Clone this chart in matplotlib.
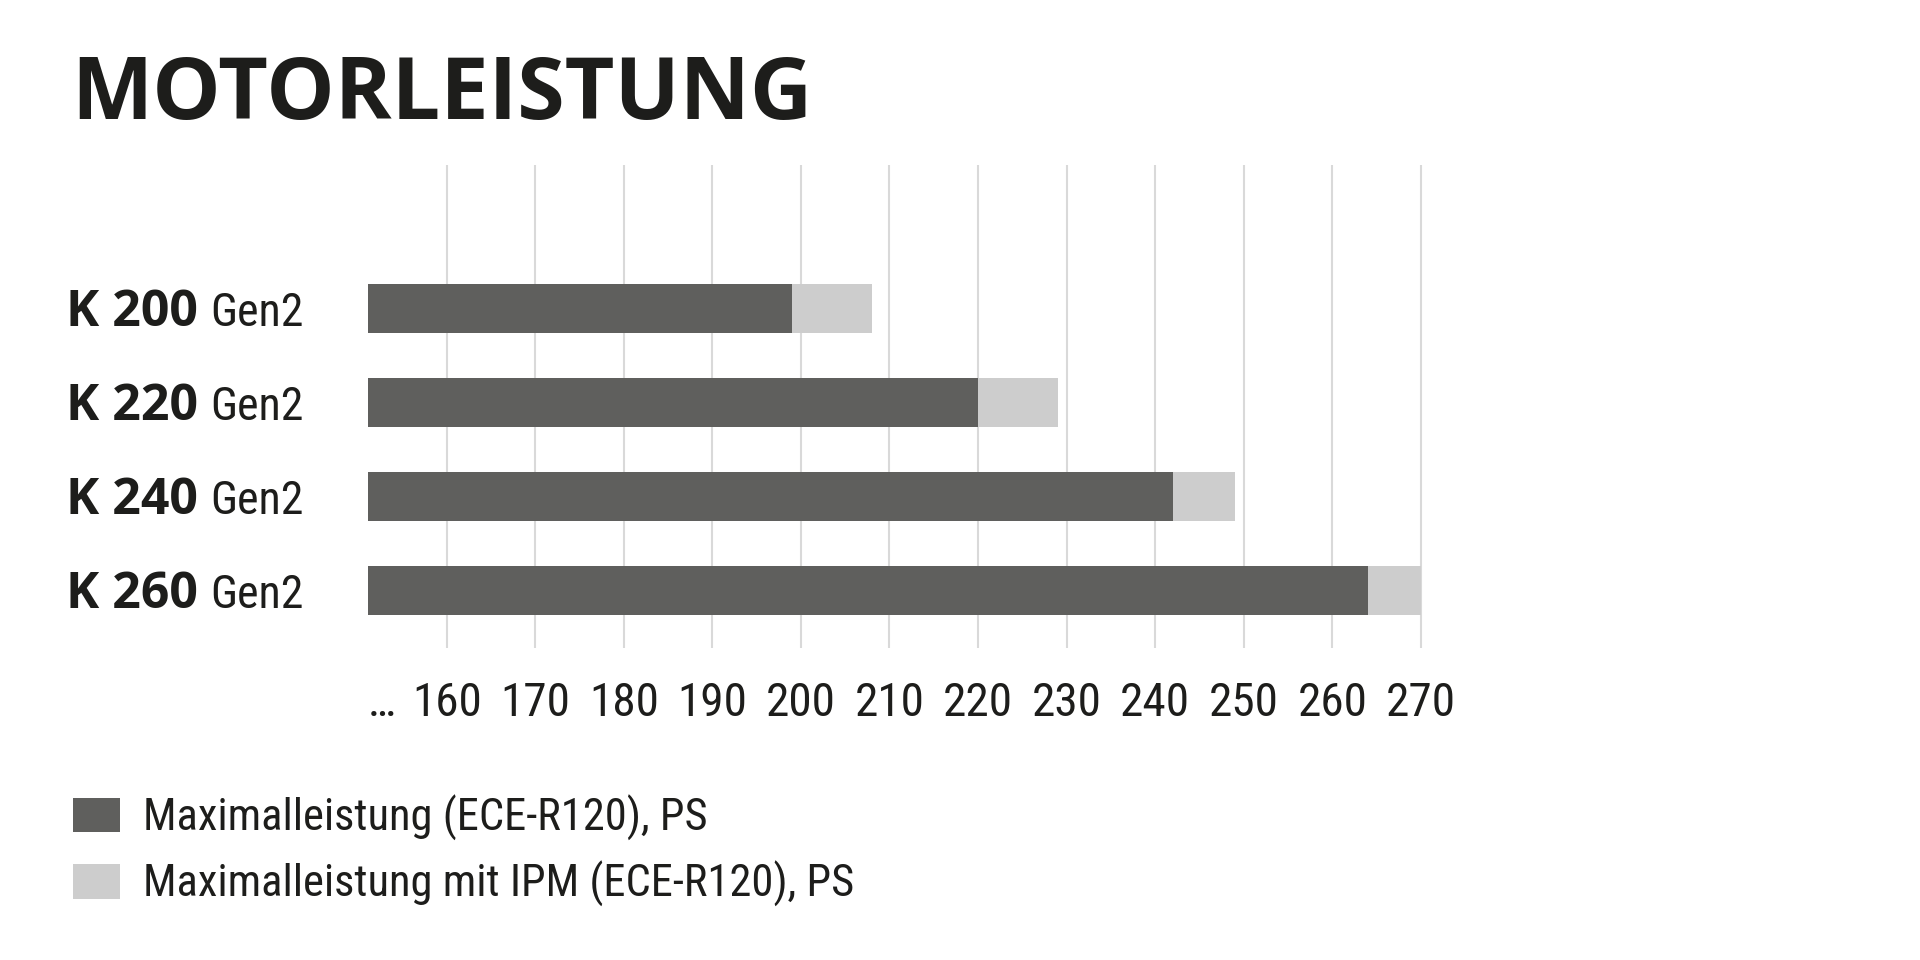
import matplotlib
matplotlib.use("Agg")
import matplotlib.pyplot as plt
from matplotlib import font_manager
from matplotlib.patches import Patch
from matplotlib.transforms import ScaledTranslation, blended_transform_factory

# data
models = ["K 200", "K 220", "K 240", "K 260"]
suffix = "Gen2"
leistung = [199, 220, 242, 264]        # Maximalleistung (ECE-R120), PS
leistung_ipm = [208, 229, 249, 270]    # Maximalleistung mit IPM (ECE-R120), PS
tick_values = [160, 170, 180, 190, 200, 210, 220, 230, 240, 250, 260, 270]
tick_labels = [str(v) for v in tick_values]
x_start = 151.1
legend_labels = ["Maximalleistung (ECE-R120), PS",
                 "Maximalleistung mit IPM (ECE-R120), PS"]

DARK = "#5f5f5d"
LIGHT = "#cdcdcd"
TEXT = "#1d1d1b"
GRID = "#d9d9d9"

# pick a narrow font if one is there, otherwise Open Sans
installed = {f.name for f in font_manager.fontManager.ttflist}
narrow = next((n for n in ["Liberation Sans Narrow", "Roboto Condensed",
                           "Open Sans Condensed", "Noto Sans Condensed"]
               if n in installed), "Open Sans")
plt.rcParams["font.family"] = [narrow, "DejaVu Sans"]

fig = plt.figure(figsize=(19.2, 9.6), dpi=100)
ax = fig.add_axes([368 / 1920, 1 - 648 / 960, (1465 - 368) / 1920, (648 - 165) / 960])

y = list(range(len(models)))
ax.barh(y, [v - x_start for v in leistung], left=x_start, height=0.527,
        color=DARK, zorder=3)
ax.barh(y, [b - a for a, b in zip(leistung, leistung_ipm)], left=leistung,
        height=0.527, color=LIGHT, zorder=3)

ax.set_xlim(x_start, 275)
ax.set_ylim(3.612, -1.527)
ax.set_xticks(tick_values, labels=tick_labels)
ax.set_yticks([])
ax.grid(axis="x", color=GRID, linewidth=1.5)
ax.set_axisbelow(True)
for s in ax.spines.values():
    s.set_visible(False)
ax.tick_params(axis="x", length=0, pad=24, labelsize=34, labelcolor=TEXT)

ax.annotate("…", xy=(x_start, 0), xycoords=("data", "axes fraction"),
            xytext=(0, -24), textcoords="offset points", ha="left", va="top",
            fontsize=34, color=TEXT)

# title
fig.text(71 / 1920, 1 - 119 / 960, "MOTORLEISTUNG", fontsize=62,
         fontweight="bold", family="Open Sans", color=TEXT, va="baseline")

# category labels: bold model + regular suffix
lab_tr = blended_transform_factory(fig.transFigure, ax.transData) + \
    ScaledTranslation(0, -0.175, fig.dpi_scale_trans)
bold_texts = []
for i, m in enumerate(models):
    t = ax.text(66 / 1920, i, m, transform=lab_tr, fontsize=36,
                fontweight="bold", family="Open Sans", color=TEXT,
                va="baseline", ha="left")
    bold_texts.append(t)
fig.canvas.draw()
for i, t in enumerate(bold_texts):
    bb = t.get_window_extent()
    ax.text((bb.x1 + 12) / 1920, i, suffix, transform=lab_tr, fontsize=33,
            color=TEXT, va="baseline", ha="left")

handles = [Patch(facecolor=DARK), Patch(facecolor=LIGHT)]
fig.legend(handles, legend_labels, loc="upper left",
           bbox_to_anchor=(73 / 1920, 1 - 795 / 960), frameon=False,
           fontsize=32, labelcolor=TEXT, handlelength=1.06, handleheight=0.81,
           handletextpad=0.52, labelspacing=0.45, borderpad=0, borderaxespad=0)

fig.savefig("out.png", dpi=100, facecolor="white")
